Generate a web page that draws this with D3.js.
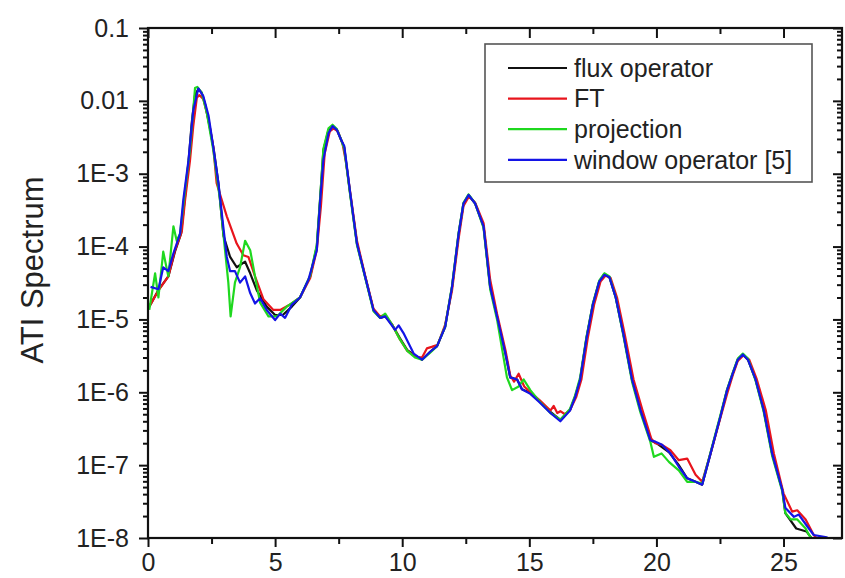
<!DOCTYPE html>
<html>
<head>
<meta charset="utf-8">
<script src="https://cdn.jsdelivr.net/npm/d3@7"></script>
<style>
  body { margin: 0; background: #fff; }
  svg { display: block; font-family: "Liberation Sans", Arial, sans-serif; }
</style>
</head>
<body>
<svg width="845" height="578"></svg>
<script>
// [energy, spectrum] pairs
var fluxOperator = [
  [0.05,1.5e-5],[0.4,2.5e-5],[0.8,3.9e-5],[1.06,8.5e-5],[1.3,1.5e-4],[1.46,5.0e-4],[1.59,1.4e-3],
  [1.72,5.0e-3],[1.85,1.2e-2],[1.98,1.45e-2],[2.11,1.3e-2],[2.25,8.9e-3],[2.45,4.0e-3],[2.6,2.0e-3],
  [2.77,7.4e-4],[2.97,1.4e-4],[3.23,7.2e-5],[3.49,5.2e-5],[3.82,6.2e-5],[4.02,4.3e-5],[4.28,2.5e-5],
  [4.67,1.5e-5],[5.0,1.15e-5],[5.3,1.15e-5],[5.66,1.5e-5],[5.98,2.0e-5],[6.38,3.9e-5],[6.64,1.0e-4],
  [6.77,4.4e-4],[6.9,2.1e-3],[7.1,4.0e-3],[7.26,4.5e-3],[7.43,4.0e-3],[7.6,2.9e-3],[7.72,2.3e-3],
  [7.95,5.4e-4],[8.22,1.1e-4],[8.54,3.9e-5],[8.87,1.35e-5],[9.13,1.05e-5],[9.33,1.1e-5],[9.6,8.5e-6],
  [9.9,5.6e-6],[10.2,3.8e-6],[10.5,3.2e-6],[10.78,2.8e-6],[11.1,3.6e-6],[11.37,4.3e-6],[11.69,7.9e-6],
  [11.96,2.8e-5],[12.22,1.5e-4],[12.41,3.9e-4],[12.61,5.1e-4],[12.87,3.9e-4],[13.2,1.9e-4],[13.46,2.8e-5],
  [13.73,1.1e-5],[14.06,3.4e-6],[14.25,1.6e-6],[14.52,1.5e-6],[14.71,1.1e-6],[15.04,9.8e-7],[15.4,7.5e-7],
  [15.83,5.4e-7],[16.22,4.2e-7],[16.6,5.7e-7],[16.8,8.7e-7],[17.0,1.5e-6],[17.25,5.6e-6],[17.5,1.6e-5],
  [17.75,3.3e-5],[17.95,4.2e-5],[18.15,3.8e-5],[18.4,2.0e-5],[18.7,6.3e-6],[19.04,1.5e-6],[19.37,5.7e-7],
  [19.76,2.2e-7],[20.0,2.0e-7],[20.5,1.5e-7],[20.88,1.0e-7],[21.21,6.6e-8],[21.54,5.9e-8],[21.8,5.4e-8],
  [22.13,1.45e-7],[22.52,4.7e-7],[22.78,1.07e-6],[23.0,1.8e-6],[23.2,2.8e-6],[23.4,3.3e-6],[23.6,2.8e-6],
  [23.9,1.5e-6],[24.22,5.7e-7],[24.55,1.45e-7],[24.95,4.6e-8],[25.07,2.2e-8],[25.5,1.35e-8],[25.9,1.23e-8],
  [26.05,1.05e-8],[26.2,9e-9]
];
var ftData = [
  [0.05,1.5e-5],[0.41,2.5e-5],[0.8,3.9e-5],[1.06,8.9e-5],[1.33,1.6e-4],[1.46,4.4e-4],[1.65,1.5e-3],
  [1.78,4.5e-3],[1.92,1.1e-2],[2.02,1.2e-2],[2.18,1.05e-2],[2.38,5.6e-3],[2.57,2.3e-3],[2.7,7.4e-4],
  [3.1,2.6e-4],[3.49,1.1e-4],[3.75,7.6e-5],[3.95,7.2e-5],[4.21,3.9e-5],[4.54,1.9e-5],[4.93,1.35e-5],
  [5.2,1.35e-5],[5.59,1.6e-5],[5.98,2.0e-5],[6.38,3.7e-5],[6.64,9.0e-5],[6.8,3.5e-4],[6.95,1.9e-3],
  [7.15,3.8e-3],[7.3,4.2e-3],[7.47,3.8e-3],[7.65,2.6e-3],[7.78,1.5e-3],[7.98,4.8e-4],[8.22,1.2e-4],
  [8.54,4.0e-5],[8.87,1.4e-5],[9.13,1.1e-5],[9.33,1.15e-5],[9.6,8.5e-6],[9.9,5.4e-6],[10.2,3.7e-6],
  [10.5,3.1e-6],[10.78,3.0e-6],[10.97,4.0e-6],[11.16,4.2e-6],[11.4,4.5e-6],[11.69,8.5e-6],[11.96,2.5e-5],
  [12.22,1.3e-4],[12.41,3.6e-4],[12.63,4.9e-4],[12.87,4.0e-4],[13.2,2.1e-4],[13.46,3.5e-5],[13.73,1.2e-5],
  [14.06,3.8e-6],[14.25,1.7e-6],[14.4,1.4e-6],[14.58,1.8e-6],[14.8,1.2e-6],[15.04,1.0e-6],[15.4,7.8e-7],
  [15.83,5.6e-7],[15.96,6.5e-7],[16.1,5.2e-7],[16.22,5.5e-7],[16.4,5.0e-7],[16.6,5.7e-7],[16.85,8.7e-7],
  [17.05,1.5e-6],[17.3,5.6e-6],[17.55,1.6e-5],[17.8,3.3e-5],[18.0,4.0e-5],[18.2,3.7e-5],[18.45,2.0e-5],
  [18.75,6.3e-6],[19.1,1.5e-6],[19.45,5.7e-7],[19.8,2.3e-7],[19.96,2.0e-7],[20.22,1.9e-7],[20.55,1.6e-7],
  [20.88,1.17e-7],[21.21,1.23e-7],[21.54,7.4e-8],[21.8,5.9e-8],[22.13,1.45e-7],[22.52,4.5e-7],[22.8,1.0e-6],
  [23.0,1.7e-6],[23.2,2.7e-6],[23.42,3.2e-6],[23.65,2.8e-6],[23.95,1.5e-6],[24.3,5.7e-7],[24.62,1.45e-7],
  [25.0,4.1e-8],[25.34,2.3e-8],[25.54,2.4e-8],[25.87,1.8e-8],[26.19,1.1e-8],[26.4,9e-9]
];
var projection = [
  [0.05,1.35e-5],[0.28,4.3e-5],[0.41,2.0e-5],[0.6,8.5e-5],[0.8,3.9e-5],[1.0,1.9e-4],[1.13,1.2e-4],
  [1.26,1.5e-4],[1.46,6.0e-4],[1.65,2.1e-3],[1.85,1.5e-2],[1.94,1.55e-2],[2.11,1.3e-2],[2.31,6.9e-3],
  [2.57,2.1e-3],[2.83,4.4e-4],[3.03,8.9e-5],[3.16,3.2e-5],[3.25,1.1e-5],[3.42,3.2e-5],[3.62,5.2e-5],
  [3.82,1.2e-4],[4.02,8.9e-5],[4.21,3.9e-5],[4.41,1.7e-5],[4.74,1.1e-5],[5.07,1.1e-5],[5.46,1.5e-5],
  [5.98,2.0e-5],[6.38,4.0e-5],[6.64,1.05e-4],[6.77,4.6e-4],[6.9,2.2e-3],[7.1,4.2e-3],[7.26,4.7e-3],
  [7.43,4.1e-3],[7.6,2.9e-3],[7.72,2.2e-3],[7.95,5.2e-4],[8.22,1.05e-4],[8.54,3.8e-5],[8.87,1.3e-5],
  [9.13,1.05e-5],[9.33,1.2e-5],[9.6,8.5e-6],[9.9,5.4e-6],[10.2,3.7e-6],[10.5,3.0e-6],[10.78,2.8e-6],
  [11.1,3.5e-6],[11.37,4.3e-6],[11.69,8.0e-6],[11.96,2.9e-5],[12.22,1.55e-4],[12.41,4.0e-4],[12.61,5.2e-4],
  [12.87,3.9e-4],[13.2,1.8e-4],[13.46,2.6e-5],[13.73,1.0e-5],[14.12,1.6e-6],[14.32,1.07e-6],[14.58,1.2e-6],
  [14.78,1.5e-6],[15.04,1.07e-6],[15.4,7.5e-7],[15.83,5.2e-7],[16.22,4.2e-7],[16.6,5.9e-7],[16.8,9.0e-7],
  [17.0,1.6e-6],[17.25,5.8e-6],[17.5,1.65e-5],[17.75,3.4e-5],[17.95,4.3e-5],[18.15,3.9e-5],[18.4,2.0e-5],
  [18.7,6.0e-6],[19.04,1.4e-6],[19.37,5.3e-7],[19.76,2.1e-7],[19.9,1.3e-7],[20.2,1.45e-7],[20.5,1.1e-7],
  [20.88,8.5e-8],[21.21,5.9e-8],[21.54,5.9e-8],[21.8,5.6e-8],[22.13,1.5e-7],[22.52,4.9e-7],[22.78,1.1e-6],
  [23.0,1.85e-6],[23.2,2.9e-6],[23.4,3.4e-6],[23.6,2.9e-6],[23.9,1.45e-6],[24.22,5.4e-7],[24.55,1.35e-7],
  [24.95,4.4e-8],[25.07,2.2e-8],[25.28,1.8e-8],[25.54,1.8e-8],[25.87,1.35e-8],[26.0,1.1e-8],[26.2,9e-9]
];
var windowOperator = [
  [0.1,2.8e-5],[0.41,2.6e-5],[0.6,5.2e-5],[0.8,4.6e-5],[1.0,8.1e-5],[1.26,1.5e-4],[1.39,4.4e-4],
  [1.59,1.5e-3],[1.78,7.4e-3],[1.98,1.48e-2],[2.18,1.15e-2],[2.38,6.3e-3],[2.57,2.3e-3],[2.77,7.4e-4],
  [2.96,1.9e-4],[3.1,7.2e-5],[3.23,4.6e-5],[3.42,4.6e-5],[3.62,3.2e-5],[3.82,3.9e-5],[4.02,2.3e-5],
  [4.21,1.65e-5],[4.41,1.95e-5],[4.67,1.35e-5],[5.0,9.8e-6],[5.2,1.2e-5],[5.39,1.05e-5],[5.66,1.6e-5],
  [5.98,2.0e-5],[6.31,3.5e-5],[6.64,8.9e-5],[6.77,4.2e-4],[6.9,1.55e-3],[7.1,3.6e-3],[7.26,4.5e-3],
  [7.43,4.0e-3],[7.6,2.9e-3],[7.72,2.4e-3],[7.95,5.6e-4],[8.22,1.1e-4],[8.54,3.9e-5],[8.87,1.35e-5],
  [9.13,1.05e-5],[9.33,1.1e-5],[9.72,7.2e-6],[9.86,8.3e-6],[10.05,6.5e-6],[10.45,3.4e-6],[10.78,2.8e-6],
  [11.1,3.6e-6],[11.37,4.3e-6],[11.69,7.9e-6],[11.96,2.8e-5],[12.22,1.5e-4],[12.41,3.9e-4],[12.61,5.1e-4],
  [12.87,3.9e-4],[13.2,1.9e-4],[13.46,2.8e-5],[13.73,1.1e-5],[14.06,3.4e-6],[14.25,1.6e-6],[14.52,1.5e-6],
  [14.71,1.1e-6],[15.04,9.5e-7],[15.4,7.3e-7],[15.83,5.2e-7],[16.22,4.0e-7],[16.6,5.6e-7],[16.8,8.5e-7],
  [17.0,1.5e-6],[17.25,5.5e-6],[17.5,1.6e-5],[17.75,3.3e-5],[17.95,4.1e-5],[18.15,3.8e-5],[18.4,2.0e-5],
  [18.7,6.3e-6],[19.04,1.5e-6],[19.37,5.7e-7],[19.76,2.2e-7],[19.96,2.1e-7],[20.22,1.9e-7],[20.55,1.45e-7],
  [20.88,9.5e-8],[21.21,6.6e-8],[21.54,5.9e-8],[21.8,5.4e-8],[22.13,1.45e-7],[22.52,4.7e-7],[22.78,1.07e-6],
  [23.0,1.8e-6],[23.2,2.8e-6],[23.4,3.3e-6],[23.6,2.8e-6],[23.9,1.5e-6],[24.22,5.7e-7],[24.55,1.45e-7],
  [24.95,4.6e-8],[25.07,2.6e-8],[25.41,1.95e-8],[25.6,2.1e-8],[25.93,1.45e-8],[26.19,1.1e-8],[26.7,1.02e-8],
  [26.9,9e-9]
];

var seriesNames = ["flux operator", "FT", "projection", "window operator [5]"];
var seriesColors = ["#111111", "#e8141c", "#1fd81f", "#1414e6"];
var xTicks = [0, 5, 10, 15, 20, 25];
var xMinorTicks = [2.5, 7.5, 12.5, 17.5, 22.5];
var yTicks = [1e-8, 1e-7, 1e-6, 1e-5, 1e-4, 1e-3, 1e-2, 1e-1];
var yTickLabels = ["1E-8", "1E-7", "1E-6", "1E-5", "1E-4", "1E-3", "0.01", "0.1"];

var svg = d3.select("svg"),
    margin = {top: 28, right: 3, bottom: 40, left: 148},
    width = +svg.attr("width") - margin.left - margin.right,
    height = +svg.attr("height") - margin.top - margin.bottom,
    g = svg.append("g").attr("transform", "translate(" + margin.left + "," + margin.top + ")");

var x = d3.scaleLinear().domain([0, 27.3]).range([0, width]),
    y = d3.scaleLog().domain([1e-8, 0.1]).range([height, 0]);

// minor log ticks 2..9 in each decade
var yMinor = [];
yTicks.slice(0, -1).forEach(function(t) {
  for (var k = 2; k < 10; k++) yMinor.push(t * k);
});

var series = [fluxOperator, ftData, projection, windowOperator].map(function(d, i) {
  return {name: seriesNames[i], color: seriesColors[i], values: d};
});

svg.append("defs").append("clipPath").attr("id", "clip")
  .append("rect").attr("width", width).attr("height", height);

var line = d3.line()
    .x(function(d) { return x(d[0]); })
    .y(function(d) { return y(d[1]); });

g.append("g").attr("clip-path", "url(#clip)")
  .selectAll("path")
  .data(series)
  .enter().append("path")
    .attr("fill", "none")
    .attr("stroke", function(d) { return d.color; })
    .attr("stroke-width", 2.2)
    .attr("stroke-linejoin", "round")
    .attr("d", function(d) { return line(d.values); });

function styleAxis(sel) {
  sel.select(".domain").remove();
  sel.selectAll("line").attr("stroke", "#111").attr("stroke-width", 2);
  sel.selectAll("text").attr("font-size", "25px").attr("fill", "#222")
    .attr("font-family", "'Liberation Sans', Arial, sans-serif");
}

// bottom axis
g.append("g").attr("transform", "translate(0," + height + ")")
  .call(d3.axisBottom(x).tickValues(xTicks).tickSize(9).tickPadding(6).tickFormat(d3.format("d")))
  .call(styleAxis);
g.append("g").attr("transform", "translate(0," + height + ")")
  .call(d3.axisBottom(x).tickValues(xMinorTicks).tickSize(6).tickFormat(""))
  .call(styleAxis);

// top axis, ticks inside
g.append("g")
  .call(d3.axisBottom(x).tickValues(xTicks).tickSize(10).tickFormat(""))
  .call(styleAxis);
g.append("g")
  .call(d3.axisBottom(x).tickValues(xMinorTicks).tickSize(6).tickFormat(""))
  .call(styleAxis);

// left axis
g.append("g")
  .call(d3.axisLeft(y).tickValues(yTicks).tickSize(9).tickPadding(10)
    .tickFormat(function(d, i) { return yTickLabels[i]; }))
  .call(styleAxis);
g.append("g")
  .call(d3.axisLeft(y).tickValues(yMinor).tickSize(5).tickFormat(""))
  .call(styleAxis);

// right axis, ticks inside
g.append("g").attr("transform", "translate(" + width + ",0)")
  .call(d3.axisLeft(y).tickValues(yTicks).tickSize(9).tickFormat(""))
  .call(styleAxis);
g.append("g").attr("transform", "translate(" + width + ",0)")
  .call(d3.axisLeft(y).tickValues(yMinor).tickSize(5).tickFormat(""))
  .call(styleAxis);

// frame
g.append("rect")
  .attr("width", width).attr("height", height)
  .attr("fill", "none").attr("stroke", "#111").attr("stroke-width", 2.2);

// y title
svg.append("text")
  .attr("transform", "translate(43,270) rotate(-90)")
  .attr("text-anchor", "middle")
  .attr("font-size", "31px")
  .attr("fill", "#222")
  .text("ATI Spectrum");

// legend
var legend = svg.append("g").attr("transform", "translate(485,44)");
legend.append("rect")
  .attr("width", 327).attr("height", 138)
  .attr("fill", "#fff").attr("stroke", "#555").attr("stroke-width", 1.6);
var rows = legend.selectAll(".row")
  .data(series)
  .enter().append("g")
    .attr("class", "row")
    .attr("transform", function(d, i) { return "translate(0," + (24 + i * 30.6) + ")"; });
rows.append("line")
  .attr("x1", 23).attr("x2", 82)
  .attr("stroke", function(d) { return d.color; })
  .attr("stroke-width", 2.2);
rows.append("text")
  .attr("x", 89).attr("dy", "0.35em")
  .attr("font-size", "25px").attr("fill", "#222")
  .text(function(d) { return d.name; });
</script>
</body>
</html>
